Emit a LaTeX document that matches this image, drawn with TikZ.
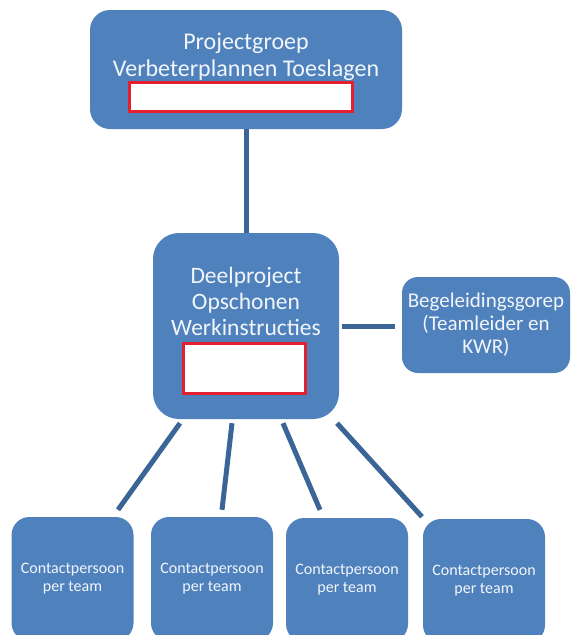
\documentclass[tikz,border=0pt]{standalone}
\usepackage{fontspec}
\setmainfont{Carlito}
\usetikzlibrary{calc}

\definecolor{boxblue}{HTML}{4F81BD}
\definecolor{linkblue}{HTML}{3C6597}
\definecolor{markred}{HTML}{E2202F}
\definecolor{tekstwit}{HTML}{F2F6FB}

\begin{document}
\begin{tikzpicture}[x=1pt,y=-1pt,
    blok/.style={fill=boxblue, rounded corners=#1, inner sep=0pt, text=tekstwit, align=center},
    blok/.default=18pt,
    tekst/.style={text=tekstwit, align=center, inner sep=0pt},
    leeg/.style={draw=markred, line width=3pt, fill=white, inner sep=0pt},
    lijn/.style={draw=linkblue, line width=5pt},
    groot/.style={font=\fontsize{24}{27}\selectfont},
    middel/.style={font=\fontsize{21}{23}\selectfont},
    klein/.style={font=\fontsize{16}{18}\selectfont}]
    \useasboundingbox (0,0) rectangle (571,635);
    \clip (0,0) rectangle (571,635);

    % projectgroep
    \node [blok=20pt, minimum width=312pt, minimum height=119pt] (proj) at (246,69.5) {};
    \node [tekst, groot] (projtxt) at (246,57) {Projectgroep\\Verbeterplannen Toeslagen};
    \node [leeg, minimum width=223pt, minimum height=29pt] (projleeg) at (241,97) {};

    % deelproject
    \node [blok=26pt, minimum width=186pt, minimum height=186pt] (deel) at (246,326) {};
    \node [tekst, groot, font=\fontsize{23.5}{26}\selectfont] (deeltxt) at (246,301) {Deelproject\\Opschonen\\Werkinstructies};
    \node [leeg, minimum width=122pt, minimum height=50pt] (deelleeg) at (244.5,368.5) {};

    % begeleiding
    \node [blok=16pt, minimum width=168pt, minimum height=96pt, middel] (begel) at (486,325)
        {Begeleidingsgorep\\(Teamleider en\\KWR)};

    % contactpersonen
    \foreach \i/\x/\y in {1/72.5/579, 2/212/579, 3/347/580, 4/484/581}
        \node [blok, minimum width=122pt, minimum height=124pt, klein] (team\i) at (\x,\y)
            {Contactpersoon\\per team};

    \draw [lijn] (deel.north) -- (proj.south);
    \draw [lijn] ([xshift=3pt]deel.east) -- ([xshift=-7pt]begel.west |- deel.east);
    \foreach \i/\a/\b/\c in {1/-66/45.5/7, 2/-14/10/7, 3/37/-27/8, 4/91/-62/2}
        \draw [lijn] ([xshift=\a pt,yshift=-4pt]deel.south) -- ([xshift=\b pt,yshift=\c pt]team\i.north);
\end{tikzpicture}
\end{document}
